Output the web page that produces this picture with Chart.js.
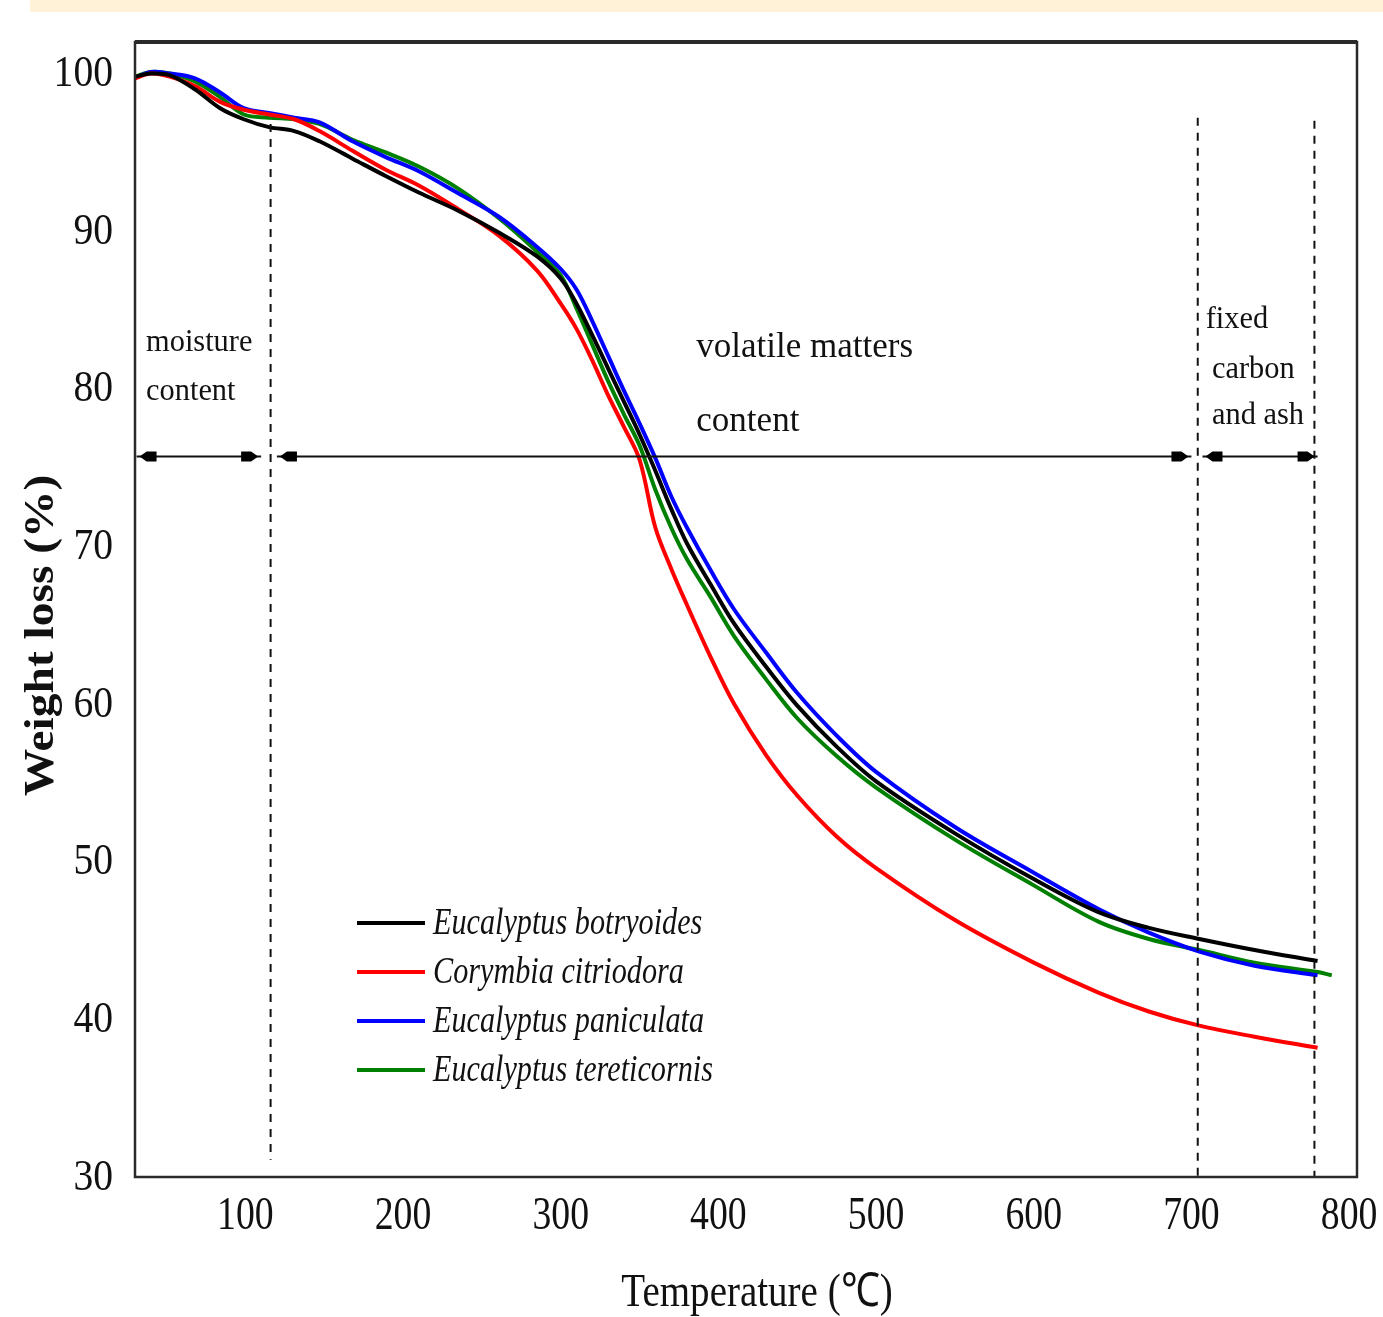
<!DOCTYPE html>
<html lang="en">
<head>
<meta charset="UTF-8">
<title>TGA weight loss</title>
<script src="https://cdn.jsdelivr.net/npm/chart.js"></script>
<style>
  html, body { margin: 0; padding: 0; background: #fff; }
  #wrap { width: 1383px; height: 1317px; }
</style>
</head>
<body>
<div id="wrap"><canvas id="tgaChart"></canvas></div>
<script>
// temperatures (°C), shared by all four curves
const temps = [30, 40, 52, 68, 84, 99, 115, 131, 147, 168, 189, 210, 235, 261, 285, 300, 310, 320, 330, 340,
               350, 360, 370, 380, 395, 410, 430, 450, 475, 500, 550, 600, 641, 673, 705, 740, 780, 789];

// weight (%) for each species
const botryoides = [99.8, 100.0, 99.9, 99.0, 97.8, 97.1, 96.6, 96.35, 95.7, 94.6, 93.5, 92.45, 91.3, 89.9, 88.4, 87.0, 85.4, 83.4, 81.3, 79.2,
                    77.1, 74.8, 72.4, 70.2, 67.6, 65.1, 62.4, 59.9, 57.3, 55.1, 51.8, 48.9, 46.8, 45.8, 45.1, 44.4, 43.7, null];
const citriodora = [99.7, 100.0, 99.8, 99.2, 98.2, 97.7, 97.4, 97.1, 96.35, 95.1, 93.9, 92.9, 91.4, 89.7, 87.5, 85.4, 83.8, 81.8, 79.6, 77.6,
                    75.5, 71.2, 68.6, 66.3, 63.0, 60.0, 56.8, 54.2, 51.6, 49.6, 46.3, 43.6, 41.7, 40.5, 39.6, 38.9, 38.2, null];
const paniculata = [99.7, 100.1, 100.0, 99.7, 98.8, 97.8, 97.5, 97.2, 96.9, 95.7, 94.7, 93.8, 92.4, 90.9, 89.0, 87.6, 86.3, 84.3, 82.1, 79.9,
                    77.8, 75.6, 73.2, 71.2, 68.5, 66.0, 63.3, 60.7, 58.0, 55.7, 52.2, 49.3, 47.0, 45.5, 44.3, 43.4, 42.8, null];
const tereticornis = [99.8, 100.1, 100.0, 99.5, 98.5, 97.4, 97.2, 97.1, 96.8, 95.8, 95.0, 94.1, 92.7, 90.8, 88.7, 87.2, 85.1, 82.8, 80.5, 78.4,
                      76.4, 73.6, 71.2, 69.2, 66.8, 64.3, 61.6, 59.1, 56.7, 54.7, 51.4, 48.5, 46.2, 45.1, 44.4, 43.6, 43.0, 42.8];

const seriesNames = ['Eucalyptus botryoides', 'Corymbia citriodora', 'Eucalyptus paniculata', 'Eucalyptus tereticornis'];
const seriesColors = ['#000000', '#ff0000', '#0000ff', '#008000'];

const xTicks = [100, 200, 300, 400, 500, 600, 700, 800];
const yTicks = [30, 40, 50, 60, 70, 80, 90, 100];

// stage boundaries (dashed lines) and the arrow spans between them
const stageLines = [[116, 96.8, 31.1], [704, 97.2, 30], [778, 97.0, 30]];
const arrowLevel = 75.7;
const arrowSpans = [[31, 110], [120, 700], [707, 780]];
// text, temperature, weight, font size, horizontal squeeze
const stageLabels = [
  ['moisture', 37, 82.9, 32, 0.95], ['content', 37, 79.8, 32, 0.95],
  ['volatile matters', 386, 82.6, 35, 1.0], ['content', 386, 77.9, 35, 1.0],
  ['fixed', 709, 84.4, 32, 0.95], ['carbon', 713, 81.2, 32, 0.95], ['and ash', 713, 78.3, 32, 0.95]
];

const SERIF = '"Liberation Serif", "Times New Roman", serif';

function stretchText(ctx, text, x, y, font, sx, align) {
  ctx.save();
  ctx.font = font;
  ctx.textAlign = align || 'left';
  ctx.textBaseline = 'middle';
  ctx.translate(x, y);
  ctx.scale(sx, 1);
  ctx.fillText(text, 0, 0);
  ctx.restore();
}

function arrowHead(ctx, ex, y, dir) {
  ctx.beginPath();
  ctx.moveTo(ex, y);
  ctx.lineTo(ex - dir * 7, y - 5);
  ctx.lineTo(ex - dir * 17, y - 5);
  ctx.lineTo(ex - dir * 17, y + 5);
  ctx.lineTo(ex - dir * 7, y + 5);
  ctx.closePath();
  ctx.fill();
}

const decorPlugin = {
  id: 'decor',
  beforeDraw(chart) {
    const ctx = chart.ctx;
    ctx.save();
    ctx.fillStyle = '#fff2d6';
    ctx.fillRect(30, 0, chart.width - 30, 12);
    ctx.restore();
  },
  afterDatasetsDraw(chart) {
    const ctx = chart.ctx;
    const xs = chart.scales.x, ys = chart.scales.y;
    const a = chart.chartArea;
    ctx.save();
    ctx.fillStyle = '#000';
    ctx.strokeStyle = '#111';

    // dashed stage lines
    ctx.lineWidth = 2;
    ctx.setLineDash([8, 7]);
    stageLines.forEach(([t, top, bot]) => {
      const px = xs.getPixelForValue(t);
      ctx.beginPath();
      ctx.moveTo(px, ys.getPixelForValue(top));
      ctx.lineTo(px, ys.getPixelForValue(bot));
      ctx.stroke();
    });
    ctx.setLineDash([]);

    // double-headed arrows
    const ay = ys.getPixelForValue(arrowLevel);
    ctx.lineWidth = 2;
    arrowSpans.forEach(([t0, t1]) => {
      const p0 = xs.getPixelForValue(t0), p1 = xs.getPixelForValue(t1);
      ctx.beginPath();
      ctx.moveTo(p0, ay);
      ctx.lineTo(p1, ay);
      ctx.stroke();
      arrowHead(ctx, p0 + 3, ay, -1);
      arrowHead(ctx, p1 - 3, ay, 1);
    });

    // stage labels
    ctx.fillStyle = '#111';
    stageLabels.forEach(([txt, t, v, size, sx]) => {
      stretchText(ctx, txt, xs.getPixelForValue(t), ys.getPixelForValue(v), size + 'px ' + SERIF, sx, 'left');
    });

    // legend
    const lx = a.left + 222, ly = a.top + 881, step = 49;
    chart.data.datasets.forEach((ds, i) => {
      const y = ly + i * step;
      ctx.strokeStyle = ds.borderColor;
      ctx.lineWidth = 4;
      ctx.beginPath();
      ctx.moveTo(lx, y);
      ctx.lineTo(lx + 68, y);
      ctx.stroke();
      ctx.fillStyle = '#111';
      stretchText(ctx, ds.label, lx + 76, y + 1, 'italic 38px ' + SERIF, 0.795, 'left');
    });

    // frame
    ctx.strokeStyle = '#2a2a2a';
    ctx.lineWidth = 2.5;
    ctx.strokeRect(a.left, a.top, a.right - a.left, a.bottom - a.top);
    ctx.lineWidth = 4;
    ctx.beginPath();
    ctx.moveTo(a.left, a.top);
    ctx.lineTo(a.right, a.top);
    ctx.stroke();

    // tick labels
    ctx.fillStyle = '#111';
    yTicks.forEach(v => {
      stretchText(ctx, String(v), a.left - 22, ys.getPixelForValue(v) + 1, '44px ' + SERIF, 0.9, 'right');
    });
    xTicks.forEach(v => {
      stretchText(ctx, String(v), xs.getPixelForValue(v), a.bottom + 40, '46px ' + SERIF, 0.82, 'center');
    });

    // axis titles
    stretchText(ctx, 'Temperature (\u2103)', (a.left + a.right) / 2 + 11, a.bottom + 117, '47px ' + SERIF, 0.83, 'center');
    ctx.save();
    ctx.translate(a.left - 93, (a.top + a.bottom) / 2 + 26);
    ctx.rotate(-Math.PI / 2);
    stretchText(ctx, 'Weight loss (%)', 0, 0, 'bold 42px ' + SERIF, 1.13, 'center');
    ctx.restore();

    ctx.restore();
  }
};

const seriesValues = [botryoides, citriodora, paniculata, tereticornis];

new Chart(document.getElementById('tgaChart'), {
  type: 'line',
  data: {
    datasets: seriesValues.map((vals, i) => ({
      label: seriesNames[i],
      data: temps.map((t, j) => ({ x: t, y: vals[j] })),
      borderColor: seriesColors[i],
      borderWidth: 4,
      pointRadius: 0,
      fill: false,
      tension: 0.35
    }))
  },
  options: {
    responsive: true,
    maintainAspectRatio: false,
    animation: false,
    layout: { padding: { left: 135, right: 26, top: 42, bottom: 140 } },
    plugins: {
      legend: { display: false },
      tooltip: { enabled: false }
    },
    scales: {
      x: { type: 'linear', min: 30, max: 805, display: false },
      y: { type: 'linear', min: 30, max: 102, display: false }
    }
  },
  plugins: [decorPlugin]
});
</script>
</body>
</html>
